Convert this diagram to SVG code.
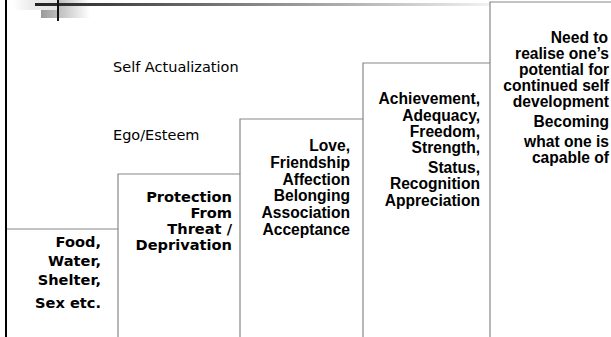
<svg xmlns="http://www.w3.org/2000/svg" width="611" height="337" viewBox="0 0 611 337">
<style>
.box{fill:none;stroke:#888;stroke-width:1.2}
.t1{font-family:"DejaVu Sans",Verdana,sans-serif;font-weight:bold;font-size:14.6px;fill:#000;text-anchor:end}
.t2{font-family:"Liberation Sans",Arial,sans-serif;font-weight:bold;font-size:15.6px;fill:#000;text-anchor:end}
.lab{font-family:"DejaVu Sans",Verdana,sans-serif;font-size:14.5px;fill:#000}
</style>
<defs>
<linearGradient id="bar" x1="35" y1="0" x2="490" y2="0" gradientUnits="userSpaceOnUse">
<stop offset="0" stop-color="#222"/>
<stop offset="0.33" stop-color="#666"/>
<stop offset="1" stop-color="#f2f2f2"/>
</linearGradient>
<linearGradient id="blk" x1="0" y1="0" x2="1" y2="0">
<stop offset="0" stop-color="#999"/>
<stop offset="1" stop-color="#fff"/>
</linearGradient>
<linearGradient id="lt" x1="0" y1="0" x2="1" y2="0">
<stop offset="0" stop-color="#fff"/>
<stop offset="0.4" stop-color="#ececec"/>
<stop offset="1" stop-color="#e4e4e4"/>
</linearGradient>
</defs>
<rect width="611" height="337" fill="#fff"/>
<g id="decoration">
<rect x="41" y="0" width="49" height="18" fill="url(#blk)"/>
<rect x="13" y="0" width="44" height="10" fill="url(#lt)"/>
<rect x="35" y="3" width="455" height="3" fill="url(#bar)"/>
<rect x="57" y="0" width="2" height="21" fill="#111"/>
<rect x="5" y="0" width="2" height="337" fill="#000"/>
</g>
<g id="labels">
<text class="lab" x="113" y="72">Self Actualization</text>
<text class="lab" x="113" y="140">Ego/Esteem</text>
</g>
<g id="step1">
<path class="box" d="M7 229 H118 V337"/>
<text class="t1" x="101" y="247">Food,</text>
<text class="t1" x="101" y="266">Water,</text>
<text class="t1" x="101" y="285">Shelter,</text>
<text class="t1" x="101" y="308">Sex etc.</text>
</g>
<g id="step2">
<path class="box" d="M118 229 V174 H240 V337"/>
<text class="t1" x="232" y="202">Protection</text>
<text class="t1" x="232" y="218">From</text>
<text class="t1" x="232" y="234">Threat /</text>
<text class="t1" x="232" y="250">Deprivation</text>
</g>
<g id="step3">
<path class="box" d="M240 174 V119 H363 V337"/>
<text class="t2" x="350" y="151">Love,</text>
<text class="t2" x="350" y="168">Friendship</text>
<text class="t2" x="350" y="185">Affection</text>
<text class="t2" x="350" y="201">Belonging</text>
<text class="t2" x="350" y="218">Association</text>
<text class="t2" x="350" y="235">Acceptance</text>
</g>
<g id="step4">
<path class="box" d="M363 119 V63 H490 V337"/>
<text class="t2" x="480" y="104">Achievement,</text>
<text class="t2" x="480" y="121">Adequacy,</text>
<text class="t2" x="480" y="137">Freedom,</text>
<text class="t2" x="480" y="153">Strength,</text>
<text class="t2" x="480" y="173">Status,</text>
<text class="t2" x="480" y="189">Recognition</text>
<text class="t2" x="480" y="206">Appreciation</text>
</g>
<g id="step5">
<path class="box" d="M490 63 V2 H611"/>
<text class="t2" x="608" y="43">Need to</text>
<text class="t2" x="609" y="59">realise one’s</text>
<text class="t2" x="609" y="75">potential for</text>
<text class="t2" x="609" y="91">continued self</text>
<text class="t2" x="609" y="107">development</text>
<text class="t2" x="609" y="127">Becoming</text>
<text class="t2" x="609" y="147">what one is</text>
<text class="t2" x="609" y="163">capable of</text>
</g>
</svg>
